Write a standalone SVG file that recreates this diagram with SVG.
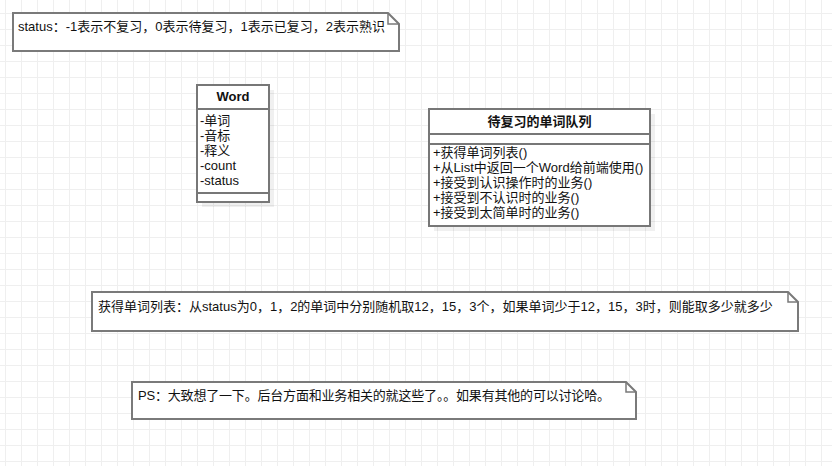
<svg xmlns="http://www.w3.org/2000/svg" width="832" height="466" viewBox="0 0 832 466">
  <defs>
    <pattern id="grid" x="5" y="13" width="16" height="16" patternUnits="userSpaceOnUse">
      <path d="M0.5 0 V16 M0 0.5 H16" fill="none" stroke="#efefef" stroke-width="1"/>
    </pattern>
    <style>
      text { font-family: "Liberation Sans", "Noto Sans CJK SC", sans-serif; font-size: 13px; fill: #111; }
      .title { font-weight: bold; text-anchor: middle; }
      .box { fill: #fff; stroke: #777; stroke-width: 2; }
      .line { fill: none; stroke: #777; stroke-width: 2; }
      .shadow { fill: #000; fill-opacity: 0.06; }
      .note { fill: #fff; stroke: #7a7a7a; stroke-width: 2; stroke-linejoin: miter; }
      .fold { fill: none; stroke: #7a7a7a; stroke-width: 1.5; }
    </style>
  </defs>

  <!-- canvas -->
  <rect width="832" height="466" fill="#fff"/>
  <rect width="832" height="466" fill="url(#grid)"/>

  <!-- status note -->
  <g id="note-status">
    <path class="note" d="M13 13 H388 L399 24 V51 H13 Z"/>
    <path class="fold" d="M388 13 V24 H399"/>
    <text x="18" y="31">status：-1表示不复习，0表示待复习，1表示已复习，2表示熟识</text>
  </g>

  <!-- Word class -->
  <g id="class-word">
    <rect class="shadow" x="202" y="90" width="72" height="117"/>
    <rect class="box" x="197" y="85" width="72" height="117"/>
    <path class="line" d="M197 109 H269 M197 193 H269"/>
    <text class="title" x="233" y="101">Word</text>
    <text x="200" y="125">-单词</text>
    <text x="200" y="140">-音标</text>
    <text x="200" y="155">-释义</text>
    <text x="200" y="170">-count</text>
    <text x="200" y="185">-status</text>
  </g>

  <!-- review queue class -->
  <g id="class-queue">
    <rect class="shadow" x="434" y="114" width="221" height="117"/>
    <rect class="box" x="429" y="109" width="221" height="117"/>
    <path class="line" d="M429 134 H650 M429 144 H650"/>
    <text class="title" x="539.5" y="126">待复习的单词队列</text>
    <text x="433" y="157">+获得单词列表()</text>
    <text x="433" y="172">+从List中返回一个Word给前端使用()</text>
    <text x="433" y="187">+接受到认识操作时的业务()</text>
    <text x="433" y="202">+接受到不认识时的业务()</text>
    <text x="433" y="217">+接受到太简单时的业务()</text>
  </g>

  <!-- word list note -->
  <g id="note-wordlist">
    <path class="note" d="M92 292 H788 L798 302 V331 H92 Z"/>
    <path class="fold" d="M788 292 V302 H798"/>
    <text x="98" y="311">获得单词列表：从status为0，1，2的单词中分别随机取12，15，3个，如果单词少于12，15，3时，则能取多少就多少</text>
  </g>

  <!-- PS note -->
  <g id="note-ps">
    <path class="note" d="M132 382 H626 L636 392 V419 H132 Z"/>
    <path class="fold" d="M626 382 V392 H636"/>
    <text x="138" y="400" textLength="472">PS：大致想了一下。后台方面和业务相关的就这些了。。如果有其他的可以讨论哈。</text>
  </g>
</svg>
